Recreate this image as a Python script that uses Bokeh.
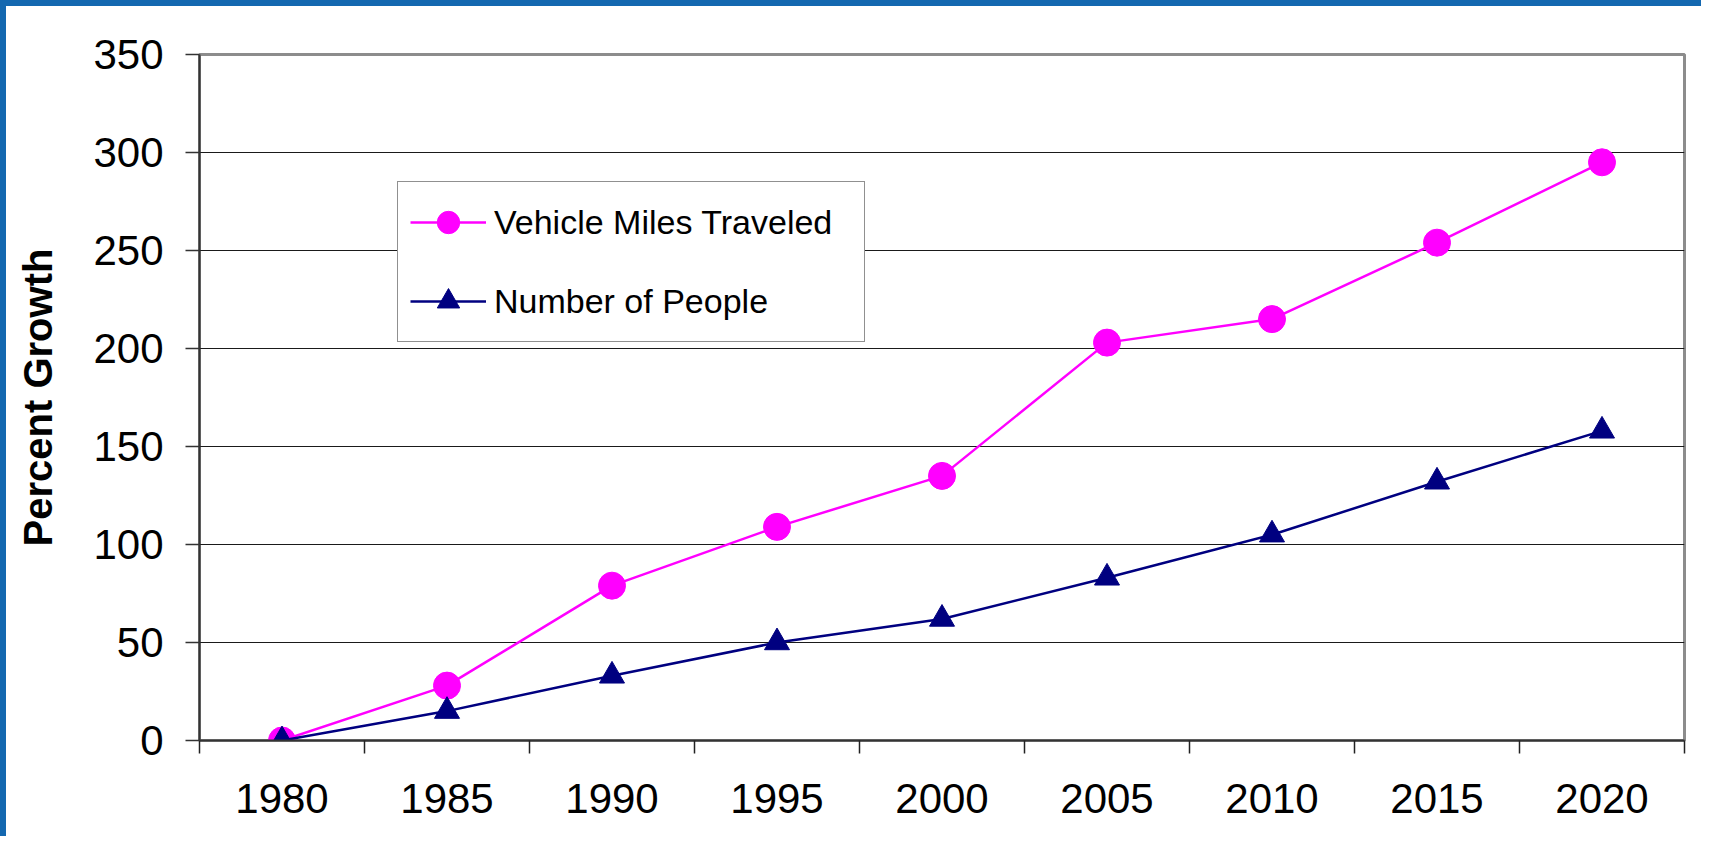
from bokeh.plotting import figure
from bokeh.models import FixedTicker, Legend, LegendItem, Range1d
from bokeh.embed import file_html
from bokeh.resources import INLINE

years = [1980, 1985, 1990, 1995, 2000, 2005, 2010, 2015, 2020]
vehicle_miles = [0, 28, 79, 109, 135, 203, 215, 254, 295]
people = [0, 15, 33, 50, 62, 83, 105, 132, 158]
y_ticks = [0, 50, 100, 150, 200, 250, 300, 350]
series_names = ["Vehicle Miles Traveled", "Number of People"]
y_title = "Percent Growth"

FONT = "Liberation Sans"
BW = 6  # slide frame width
W, H = 1707 - BW, 842 - BW

half = (years[1] - years[0]) / 2
p = figure(width=W, height=H, output_backend="svg", toolbar_location=None,
           x_range=Range1d(years[0] - half, years[-1] + half),
           y_range=Range1d(y_ticks[0], y_ticks[-1]),
           min_border_left=199 - BW, min_border_right=1707 - 1684, min_border_top=54 - BW,
           min_border_bottom=842 - 740)
p.background_fill_color = "white"
p.border_fill_color = "white"
p.outline_line_color = "#8c8c8c"
p.outline_line_width = 3
p.styles = {"border-left": f"{BW}px solid #1468b0", "border-top": f"{BW}px solid #1468b0"}

# x axis: labels at category centers, ticks at boundaries
xa = p.xaxis[0]
xa.ticker = FixedTicker(ticks=years, minor_ticks=[y - half for y in years] + [years[-1] + half])
xa.major_tick_out = 0
xa.major_tick_in = 0
xa.minor_tick_out = 13
xa.minor_tick_in = 0
xa.minor_tick_line_color = "#222222"
xa.minor_tick_line_width = 1.5
xa.axis_line_color = "#333333"
xa.axis_line_width = 2
xa.major_label_text_font = FONT
xa.major_label_text_font_size = "42px"
xa.major_label_text_color = "black"
xa.major_label_standoff = 30

ya = p.yaxis[0]
ya.ticker = FixedTicker(ticks=y_ticks)
ya.minor_tick_line_color = None
ya.major_tick_out = 14
ya.major_tick_in = 0
ya.major_tick_line_color = "#333333"
ya.major_tick_line_width = 1.5
ya.axis_line_color = "#333333"
ya.axis_line_width = 2
ya.major_label_text_font = FONT
ya.major_label_text_font_size = "42px"
ya.major_label_text_color = "black"
ya.major_label_standoff = 22
ya.axis_label = y_title
ya.axis_label_text_font = FONT
ya.axis_label_text_font_size = "40px"
ya.axis_label_text_font_style = "bold"
ya.axis_label_text_color = "black"
ya.axis_label_standoff = 30

p.xgrid.grid_line_color = None
p.ygrid.ticker = FixedTicker(ticks=y_ticks[1:-1])
p.ygrid.grid_line_color = "#1a1a1a"
p.ygrid.grid_line_width = 1

l1 = p.line(years, vehicle_miles, line_color="#FF00FF", line_width=2.5)
s1 = p.scatter(years, vehicle_miles, marker="circle", size=27, fill_color="#FF00FF", line_color="#FF00FF")
l2 = p.line(years, people, line_color="#000080", line_width=2.5)
s2 = p.scatter(years, people, marker="triangle", size=25, fill_color="#000080", line_color="#000080")

legend = Legend(items=[LegendItem(label=series_names[0], renderers=[l1, s1]),
                       LegendItem(label=series_names[1], renderers=[l2, s2])],
                location=(198, 398))
legend.label_text_font = FONT
legend.label_text_font_size = "34px"
legend.label_text_color = "black"
legend.glyph_width = 76
legend.glyph_height = 56
legend.label_height = 56
legend.label_width = 358
legend.label_standoff = 8
legend.spacing = 23
legend.padding = 12
legend.margin = 0
legend.border_line_color = "#222222"
legend.border_line_width = 1.5
legend.background_fill_color = "white"
legend.background_fill_alpha = 1
p.add_layout(legend, "center")

open("out.html", "w").write(file_html(p, INLINE))
